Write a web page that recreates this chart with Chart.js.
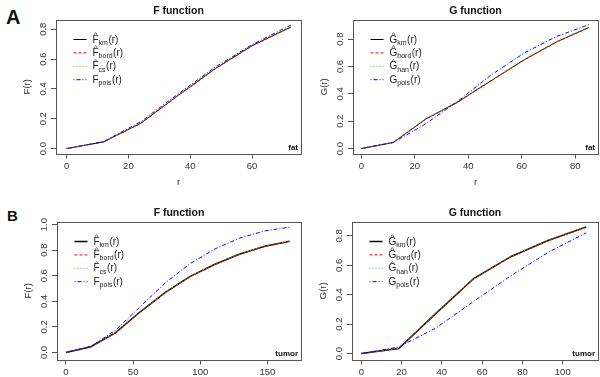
<!DOCTYPE html>
<html>
<head>
<meta charset="utf-8">
<script src="https://cdn.jsdelivr.net/npm/chart.js@4.4.1/dist/chart.umd.min.js"></script>
<style>
  body { margin: 0; background: #fff; width: 600px; height: 377px; position: relative; overflow: hidden;
         font-family: "Liberation Sans", Arial, sans-serif; }
  canvas { position: absolute; }
  .tag { position: absolute; font-weight: bold; color: #111; line-height: 1; }
</style>
</head>
<body>
<div class="tag" style="left:6px;top:7px;font-size:20px">A</div>
<div class="tag" style="left:7px;top:208px;font-size:15px">B</div>
<canvas id="fat-f" style="left:0;top:0" width="305" height="188"></canvas>
<canvas id="fat-g" style="left:300px;top:0" width="300" height="188"></canvas>
<canvas id="tumor-f" style="left:0;top:188px" width="305" height="189"></canvas>
<canvas id="tumor-g" style="left:300px;top:188px" width="300" height="189"></canvas>
<script>
  const FONT = '"Liberation Sans", Arial, sans-serif';

  /* ============ A : fat ============ */

  // F function
  const rFatF = [0, 12, 24, 36, 48, 60, 72.5];
  const kmFatF = [0, 0.045, 0.17, 0.355, 0.535, 0.69, 0.815];
  const bordFatF = [0, 0.045, 0.168, 0.353, 0.533, 0.688, 0.813];
  const csFatF = [0, 0.046, 0.172, 0.357, 0.537, 0.693, 0.818];
  const poisFatF = [0, 0.047, 0.18, 0.365, 0.545, 0.697, 0.828];
  const xTicksFatF = [0, 20, 40, 60];
  const yTicksFatF = [0, 0.2, 0.4, 0.6, 0.8];

  // G function
  const rFatG = [0, 12, 24, 36, 48, 61, 73, 85];
  const kmFatG = [0, 0.045, 0.215, 0.34, 0.49, 0.65, 0.78, 0.885];
  const bordFatG = [0, 0.045, 0.213, 0.338, 0.488, 0.648, 0.778, 0.883];
  const hanFatG = [0, 0.046, 0.217, 0.342, 0.492, 0.652, 0.782, 0.887];
  const poisFatG = [0, 0.045, 0.18, 0.345, 0.53, 0.70, 0.82, 0.905];
  const xTicksFatG = [0, 20, 40, 60, 80];
  const yTicksFatG = [0, 0.2, 0.4, 0.6, 0.8];

  /* ============ B : tumor ============ */

  // F function
  const rTumorF = [0, 18.5, 37, 55.5, 74, 92.5, 111, 129.5, 148, 166.5];
  const kmTumorF = [0, 0.045, 0.155, 0.32, 0.47, 0.595, 0.69, 0.77, 0.83, 0.87];
  const bordTumorF = [0, 0.045, 0.153, 0.318, 0.468, 0.593, 0.688, 0.768, 0.828, 0.868];
  const csTumorF = [0, 0.046, 0.157, 0.322, 0.472, 0.597, 0.692, 0.772, 0.832, 0.872];
  const poisTumorF = [0, 0.047, 0.175, 0.36, 0.545, 0.695, 0.81, 0.895, 0.95, 0.98];
  const xTicksTumorF = [0, 50, 100, 150];
  const yTicksTumorF = [0, 0.2, 0.4, 0.6, 0.8, 1.0];

  // G function
  const rTumorG = [0, 18.6, 37.2, 55.8, 74.4, 93, 111.6];
  const kmTumorG = [0, 0.035, 0.275, 0.51, 0.66, 0.77, 0.86];
  const bordTumorG = [0, 0.035, 0.273, 0.508, 0.658, 0.768, 0.858];
  const hanTumorG = [0, 0.036, 0.277, 0.512, 0.662, 0.772, 0.862];
  const poisTumorG = [0, 0.045, 0.175, 0.355, 0.53, 0.69, 0.82];
  const xTicksTumorG = [0, 20, 40, 60, 80, 100];
  const yTicksTumorG = [0, 0.2, 0.4, 0.6, 0.8];

  /*
    ==================================================
    =========== R-like decorations (plugin) ==========
    ==================================================
  */

  const rDecor = {
    id: 'rDecor',
    afterDraw(chart, args, o) {
      const { ctx, chartArea: a } = chart;
      const ys = chart.scales.y;
      ctx.save();

      // box
      ctx.strokeStyle = '#555';
      ctx.lineWidth = 1;
      ctx.setLineDash([]);
      ctx.strokeRect(Math.round(a.left) + 0.5, Math.round(a.top) + 0.5,
        Math.round(a.right - a.left), Math.round(a.bottom - a.top));

      // rotated y tick labels
      ctx.fillStyle = '#333';
      ctx.font = '9.5px ' + FONT;
      ctx.textAlign = 'center';
      ctx.textBaseline = 'middle';
      ys.ticks.forEach(t => {
        ctx.save();
        ctx.translate(a.left - 13, ys.getPixelForValue(t.value));
        ctx.rotate(-Math.PI / 2);
        ctx.fillText(t.value.toFixed(1), 0, 0);
        ctx.restore();
      });

      // y axis title
      ctx.save();
      ctx.translate(a.left - 29, (a.top + a.bottom) / 2);
      ctx.rotate(-Math.PI / 2);
      ctx.fillText(o.yLabel, 0, 0);
      ctx.restore();

      // x axis title
      if (o.xLabel) ctx.fillText(o.xLabel, (a.left + a.right) / 2, a.bottom + 29);

      // main title
      ctx.fillStyle = '#111';
      ctx.font = 'bold 10.5px ' + FONT;
      ctx.fillText(o.title, (a.left + a.right) / 2, a.top - 8.5);

      // corner tag
      ctx.font = 'bold 8px ' + FONT;
      ctx.textAlign = 'right';
      ctx.textBaseline = 'alphabetic';
      ctx.fillText(o.corner, a.right - 3, a.bottom - 4);

      // legend with hats and subscripts
      chart.data.datasets.forEach((ds, i) => {
        const y = a.top + 19.5 + i * 13.4;
        ctx.strokeStyle = ds.borderColor;
        ctx.lineWidth = ds.borderWidth;
        ctx.setLineDash(ds.borderDash || []);
        ctx.beginPath();
        ctx.moveTo(a.left + 17.5, y);
        ctx.lineTo(a.left + 30.5, y);
        ctx.stroke();

        const lab = o.legend[i];
        let x = a.left + 36.5;
        const base = y + 3;
        ctx.fillStyle = '#222';
        ctx.textAlign = 'left';
        ctx.font = '10px ' + FONT;
        const w = ctx.measureText(lab.sym).width;
        ctx.fillText(lab.sym, x, base);
        if (lab.hat) {
          ctx.font = '8px ' + FONT;
          ctx.textAlign = 'center';
          ctx.fillText('^', x + w / 2, base - 5.5);
          ctx.textAlign = 'left';
        }
        x += w;
        ctx.font = '7px ' + FONT;
        ctx.fillText(lab.sub, x, base + 2.5);
        x += ctx.measureText(lab.sub).width + 0.5;
        ctx.font = '10px ' + FONT;
        ctx.fillText('(r)', x, base);
      });

      ctx.restore();
    }
  };

  function points(r, v) {
    return r.map((x, i) => ({ x, y: v[i] }));
  }

  function panel(id, r, series, labels, xTicks, yTicks, xMin, xMax, yMin, yMax, pad, xH, deco, kmWidth) {
    const styles = [
      { color: '#000000', dash: [], width: kmWidth },
      { color: '#ff0000', dash: [3, 2], width: 1 },
      { color: '#22cc22', dash: [1, 2], width: 1 },
      { color: '#0000ff', dash: [1, 2, 4, 2], width: 1 }
    ];
    return new Chart(document.getElementById(id).getContext('2d'), {
      type: 'line',
      data: {
        datasets: series.map((s, i) => ({
          label: labels[i],
          data: points(r, s),
          borderColor: styles[i].color,
          borderDash: styles[i].dash,
          borderWidth: styles[i].width,
          pointRadius: 0,
          tension: 0,
          fill: false,
          order: 3 - i
        }))
      },
      options: {
        responsive: false,
        animation: false,
        devicePixelRatio: 1,
        layout: { padding: pad },
        plugins: { legend: { display: false }, tooltip: { enabled: false }, rDecor: deco },
        scales: {
          x: {
            type: 'linear', min: xMin, max: xMax,
            afterBuildTicks: s => { s.ticks = xTicks.map(v => ({ value: v })); },
            afterFit: s => { s.height = xH; },
            ticks: { font: { size: 9.5, family: FONT }, color: '#333', padding: 2, maxRotation: 0, autoSkip: false },
            grid: { drawOnChartArea: false, tickLength: 5, color: '#555' },
            border: { display: false }
          },
          y: {
            type: 'linear', min: yMin, max: yMax,
            afterBuildTicks: s => { s.ticks = yTicks.map(v => ({ value: v })); },
            afterFit: s => { s.width = 0; },
            ticks: { display: false },
            grid: { drawOnChartArea: false, tickLength: 5, color: '#555' },
            border: { display: false }
          }
        }
      },
      plugins: [rDecor]
    });
  }

  const legF = [
    { sym: 'F', hat: true, sub: 'km' }, { sym: 'F', hat: true, sub: 'bord' },
    { sym: 'F', hat: true, sub: 'cs' }, { sym: 'F', hat: false, sub: 'pois' }
  ];
  const legG = [
    { sym: 'G', hat: true, sub: 'km' }, { sym: 'G', hat: true, sub: 'bord' },
    { sym: 'G', hat: true, sub: 'han' }, { sym: 'G', hat: false, sub: 'pois' }
  ];
  const labF = ['F̂km(r)', 'F̂bord(r)', 'F̂cs(r)', 'Fpois(r)'];
  const labG = ['Ĝkm(r)', 'Ĝbord(r)', 'Ĝhan(r)', 'Gpois(r)'];

  panel('fat-f', rFatF, [kmFatF, bordFatF, csFatF, poisFatF], labF, xTicksFatF, yTicksFatF,
    -3.4, 75.8, -0.033, 0.862, { left: 56, top: 20, right: 4, bottom: 14.5 }, 20,
    { title: 'F function', yLabel: 'F(r)', xLabel: 'r', corner: 'fat', legend: legF }, 1);

  panel('fat-g', rFatG, [kmFatG, bordFatG, hanFatG, poisFatG], labG, xTicksFatG, yTicksFatG,
    -3.1, 88.5, -0.036, 0.94, { left: 53, top: 20, right: 2, bottom: 14.5 }, 20,
    { title: 'G function', yLabel: 'G(r)', xLabel: 'r', corner: 'fat', legend: legG }, 1);

  panel('tumor-f', rTumorF, [kmTumorF, bordTumorF, csTumorF, poisTumorF], labF, xTicksTumorF, yTicksTumorF,
    -6.7, 175, -0.055, 1.02, { left: 57, top: 34, right: 4, bottom: 0 }, 17.5,
    { title: 'F function', yLabel: 'F(r)', xLabel: '', corner: 'tumor', legend: legF }, 1.5);

  panel('tumor-g', rTumorG, [kmTumorG, bordTumorG, hanTumorG, poisTumorG], labG, xTicksTumorG, yTicksTumorG,
    -4.6, 117.5, -0.04, 0.894, { left: 52, top: 34, right: 2, bottom: 0 }, 17.5,
    { title: 'G function', yLabel: 'G(r)', xLabel: '', corner: 'tumor', legend: legG }, 1.5);
</script>
</body>
</html>
